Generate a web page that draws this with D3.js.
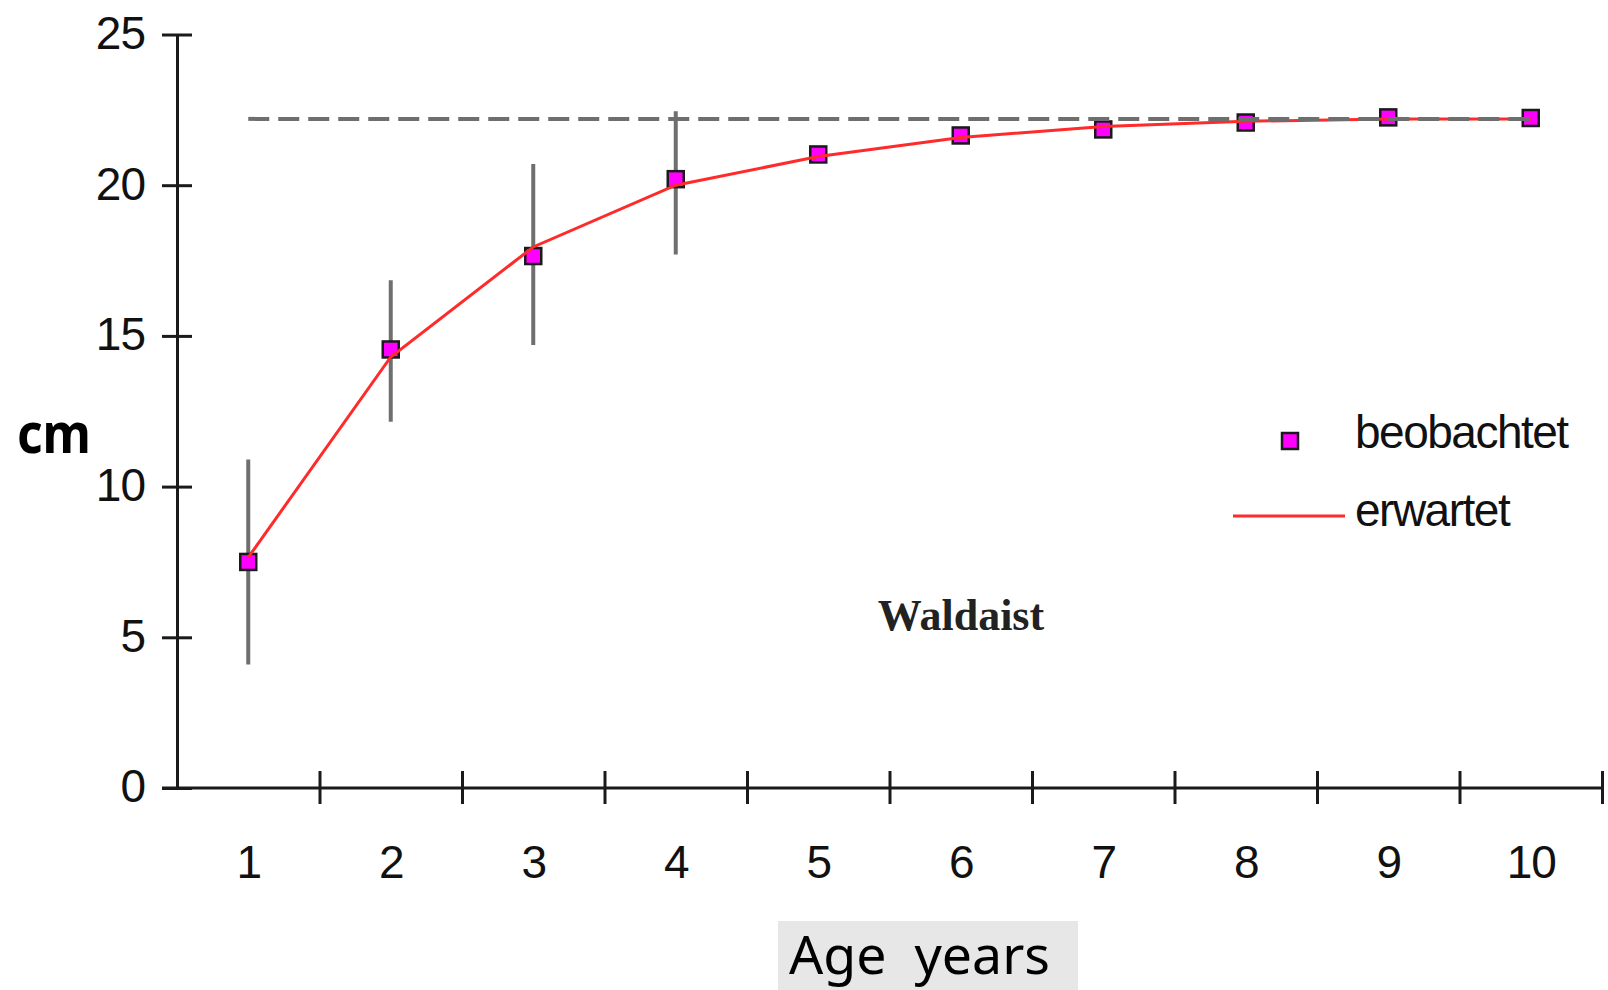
<!DOCTYPE html>
<html>
<head>
<meta charset="utf-8">
<script src="https://cdn.jsdelivr.net/npm/d3@7"></script>
<style>
  body { margin: 0; background: #fff; }
  svg { display: block; }
</style>
</head>
<body>
<div id="chart"></div>
<script>
// Data
const ages = [1, 2, 3, 4, 5, 6, 7, 8, 9, 10];
const observed = [7.5, 14.55, 17.65, 20.2, 21.02, 21.65, 21.85, 22.08, 22.25, 22.23];
const expected = [7.65, 14.3, 17.95, 20.0, 20.95, 21.58, 21.95, 22.12, 22.2, 22.2];
const errLow = [4.1, 12.15, 14.7, 17.7, null, null, null, null, null, null];
const errHigh = [10.9, 16.85, 20.7, 22.45, null, null, null, null, null, null];
const asymptote = 22.2;
const yTicks = [0, 5, 10, 15, 20, 25];

const config = {
    WIDTH: 1608,
    HEIGHT: 990,
    LEFT: 177,
    RIGHT: 1602,
    TOP: 34.5,
    BOTTOM: 788,
    TICK: 15,
};

const svg = d3.select('#chart')
    .append('svg')
    .attr('width', config.WIDTH)
    .attr('height', config.HEIGHT);

// x: each age sits in the middle of a unit-wide cell, ticks mark the cell edges
const x = d3.scaleLinear()
    .domain([0.5, 10.5])
    .range([config.LEFT, config.RIGHT]);

const y = d3.scaleLinear()
    .domain([0, 25])
    .range([config.BOTTOM, config.TOP]);

const axisFont = 'Arial, "Liberation Sans", sans-serif';

// Y axis
const yAxis = svg.append('g')
    .attr('transform', `translate(${config.LEFT},0)`)
    .call(d3.axisLeft(y).tickValues(yTicks).tickSizeOuter(0).tickPadding(0));

yAxis.select('.domain').attr('stroke', '#1a1a1a').attr('stroke-width', 3);
yAxis.selectAll('.tick line')
    .attr('x1', -config.TICK).attr('x2', config.TICK)
    .attr('stroke', '#1a1a1a').attr('stroke-width', 3);
yAxis.selectAll('.tick text')
    .attr('x', -32)
    .attr('dy', '0.3em')
    .attr('fill', '#111')
    .style('font-family', axisFont)
    .style('font-size', '46px')
    .style('letter-spacing', '-1px');

// X axis: line, edge ticks, centred labels
const xAxisG = svg.append('g').attr('transform', `translate(0,${config.BOTTOM})`);

xAxisG.append('line')
    .attr('x1', x(0.5) - config.TICK).attr('x2', x(10.5))
    .attr('stroke', '#1a1a1a').attr('stroke-width', 3);

const edges = ages.map(a => a - 0.5).concat([10.5]);
const xTicks = xAxisG.append('g')
    .call(d3.axisBottom(x).tickValues(edges.slice(1)).tickFormat('').tickSizeOuter(0));
xTicks.select('.domain').remove();
xTicks.selectAll('.tick line')
    .attr('y1', -17).attr('y2', 16)
    .attr('stroke', '#1a1a1a').attr('stroke-width', 3);

const xLabels = xAxisG.append('g')
    .call(d3.axisBottom(x).tickValues(ages).tickSize(0).tickFormat(d3.format('d')));
xLabels.select('.domain').remove();
xLabels.selectAll('.tick text')
    .attr('y', 90)
    .attr('dy', 0)
    .attr('fill', '#111')
    .style('font-family', axisFont)
    .style('font-size', '46px')
    .style('letter-spacing', '-1px');

// Error bars
const bars = ages.map((a, i) => ({ age: a, lo: errLow[i], hi: errHigh[i] }))
    .filter(d => d.lo !== null);

svg.append('g').selectAll('line')
    .data(bars)
    .join('line')
    .attr('x1', d => x(d.age)).attr('x2', d => x(d.age))
    .attr('y1', d => y(d.hi)).attr('y2', d => y(d.lo))
    .attr('stroke', '#6f6f6f')
    .attr('stroke-width', 4);

// Observed points
const SQ = 16;
svg.append('g').selectAll('rect')
    .data(ages.map((a, i) => ({ age: a, v: observed[i] })))
    .join('rect')
    .attr('x', d => x(d.age) - SQ / 2)
    .attr('y', d => y(d.v) - SQ / 2)
    .attr('width', SQ).attr('height', SQ)
    .attr('fill', '#ff00ff')
    .attr('stroke', '#1a1a1a')
    .attr('stroke-width', 2.5);

// Expected curve
const line = d3.line()
    .x(d => x(d.age))
    .y(d => y(d.v));

svg.append('path')
    .datum(ages.map((a, i) => ({ age: a, v: expected[i] })))
    .attr('d', line)
    .attr('fill', 'none')
    .attr('stroke', '#ff2a2a')
    .attr('stroke-width', 3);

// Asymptote, dashed
svg.append('line')
    .attr('x1', x(1)).attr('x2', x(10))
    .attr('y1', y(asymptote)).attr('y2', y(asymptote))
    .attr('stroke', '#6e6e6e')
    .attr('stroke-width', 4)
    .attr('stroke-dasharray', '21,9');

// Legend
const legend = svg.append('g');
legend.append('rect')
    .attr('x', 1290 - SQ / 2).attr('y', 441 - SQ / 2)
    .attr('width', SQ).attr('height', SQ)
    .attr('fill', '#ff00ff').attr('stroke', '#1a1a1a').attr('stroke-width', 2.5);
legend.append('line')
    .attr('x1', 1233).attr('x2', 1345)
    .attr('y1', 516).attr('y2', 516)
    .attr('stroke', '#ff2a2a').attr('stroke-width', 3);
legend.selectAll('text')
    .data([['beobachtet', 448], ['erwartet', 526]])
    .join('text')
    .attr('x', 1355)
    .attr('y', d => d[1])
    .text(d => d[0])
    .attr('fill', '#111')
    .style('font-family', axisFont)
    .style('font-size', '46px')
    .style('letter-spacing', '-1.5px');

// Site label
svg.append('text')
    .attr('x', 961).attr('y', 630)
    .attr('text-anchor', 'middle')
    .text('Waldaist')
    .attr('fill', '#222')
    .style('font-family', '"Liberation Serif", "Times New Roman", serif')
    .style('font-weight', 'bold')
    .style('font-size', '44px');

// Axis titles
svg.append('text')
    .attr('x', 17).attr('y', 453)
    .attr('textLength', 74)
    .attr('lengthAdjust', 'spacingAndGlyphs')
    .text('cm')
    .attr('fill', '#000')
    .style('font-family', '"Noto Sans", "Open Sans", sans-serif')
    .style('font-weight', 'bold')
    .style('font-size', '56px');

svg.append('rect')
    .attr('x', 778).attr('y', 921)
    .attr('width', 300).attr('height', 69)
    .attr('fill', '#e7e7e7');

svg.append('text')
    .attr('x', 789).attr('y', 974)
    .attr('textLength', 261)
    .attr('lengthAdjust', 'spacingAndGlyphs')
    .style('white-space', 'pre')
    .text('Age  years')
    .attr('fill', '#000')
    .style('font-family', '"Noto Sans", "Open Sans", sans-serif')
    .style('font-size', '53px');
</script>
</body>
</html>
